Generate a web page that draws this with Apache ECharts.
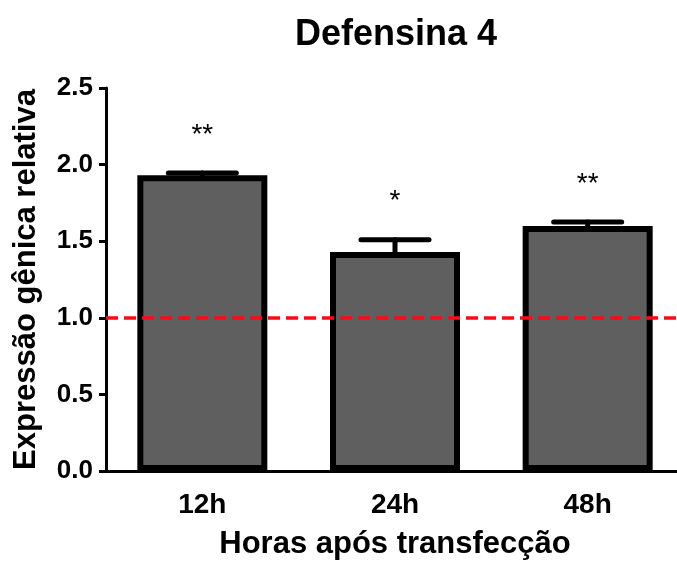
<!DOCTYPE html>
<html>
<head>
<meta charset="utf-8">
<script src="https://cdn.jsdelivr.net/npm/echarts@6/dist/echarts.min.js"></script>
<style>html,body{margin:0;padding:0;background:#fff}#c{width:677px;height:561px}</style>
</head>
<body>
<div id="c"></div>
<script>
const categories = ['12h', '24h', '48h'];
const meanValues = [1.93, 1.43, 1.60];
const errorValues = [0.015, 0.08, 0.025];
const significance = ['**', '*', '**'];
const referenceLevel = 1.0;

const FONT = "'Liberation Sans', Arial, sans-serif";
const chart = echarts.init(document.getElementById('c'), null, {renderer: 'canvas'});

const errData = meanValues.map((v, i) => [i, v, v + errorValues[i], significance[i]]);

chart.setOption({
  animation: false,
  title: {
    text: 'Defensina 4', left: 391, top: 12, textAlign: 'center',
    textStyle: {fontFamily: FONT, fontWeight: 'bold', fontSize: 36, color: '#000'}
  },
  grid: {left: 106, right: -7, top: 88, bottom: 90, containLabel: false, outerBoundsMode: 'none'},
  xAxis: {
    type: 'category', data: categories,
    name: 'Horas após transfecção', nameLocation: 'middle', nameGap: 58,
    nameTextStyle: {fontFamily: FONT, fontWeight: 'bold', fontSize: 31, color: '#000'},
    axisLine: {lineStyle: {color: '#000', width: 3}},
    axisTick: {alignWithLabel: true, length: 9, lineStyle: {color: '#000', width: 3}},
    axisLabel: {margin: 20, fontFamily: FONT, fontWeight: 'bold', fontSize: 28, color: '#000'}
  },
  yAxis: {
    type: 'value', min: 0, max: 2.5, interval: 0.5,
    name: 'Expressão gênica relativa', nameLocation: 'middle', nameGap: 64,
    nameTextStyle: {fontFamily: FONT, fontWeight: 'bold', fontSize: 31, color: '#000'},
    axisLine: {show: true, lineStyle: {color: '#000', width: 3}},
    axisTick: {show: true, length: 7, lineStyle: {color: '#000', width: 3}},
    splitLine: {show: false},
    axisLabel: {margin: 13, fontFamily: FONT, fontWeight: 'bold', fontSize: 26, color: '#000',
      formatter: v => v.toFixed(1)}
  },
  series: [
    {
      type: 'line', data: meanValues, z: 1, symbol: 'none', silent: true,
      lineStyle: {opacity: 0},
      markLine: {
        silent: true, symbol: 'none', label: {show: false},
        lineStyle: {color: '#ff0a14', width: 3.5, type: [12, 6], opacity: 1},
        emphasis: {disabled: true},
        data: [{yAxis: referenceLevel}]
      }
    },
    {
      type: 'bar', data: meanValues, barWidth: 130, z: 3,
      itemStyle: {color: '#5f5f5f', borderColor: '#000', borderWidth: 6}
    },
    {
      type: 'custom', z: 4, data: errData,
      renderItem: function (params, api) {
        const x = api.coord([api.value(0), api.value(1)])[0];
        const y0 = api.coord([api.value(0), api.value(1)])[1];
        const y1 = api.coord([api.value(0), api.value(2)])[1];
        const hw = 34;
        const st = {stroke: '#000', lineWidth: 5, lineCap: 'round'};
        return {
          type: 'group',
          children: [
            {type: 'line', shape: {x1: x, y1: y0, x2: x, y2: y1}, style: st},
            {type: 'line', shape: {x1: x - hw, y1: y1, x2: x + hw, y2: y1}, style: st},
            {type: 'text', style: {text: api.value(3), x: x, y: y1 - 38, textAlign: 'center',
              textVerticalAlign: 'middle', font: "normal 28px " + FONT, fill: '#000'}}
          ]
        };
      }
    }
  ]
});
</script>
</body>
</html>
